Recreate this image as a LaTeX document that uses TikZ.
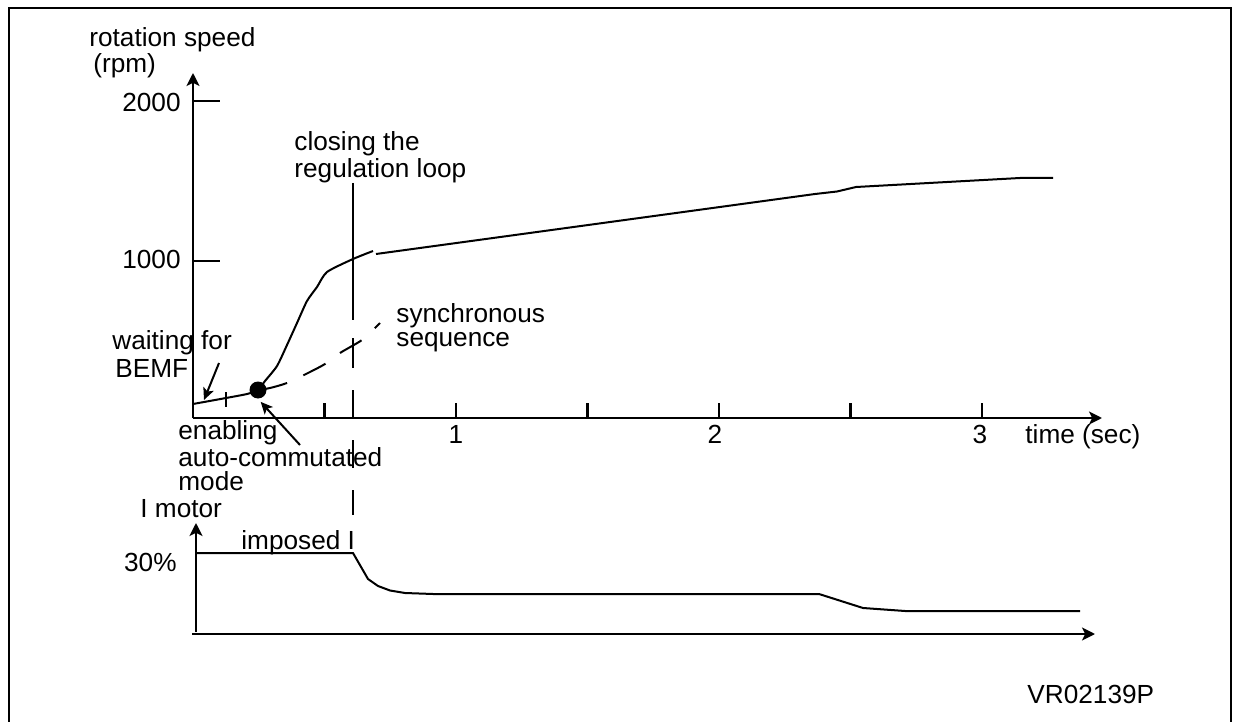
\documentclass[tikz,border=0pt]{standalone}
\usepackage{fontspec}
\setmainfont{Liberation Sans}
\usetikzlibrary{arrows.meta}

\begin{document}
\begin{tikzpicture}[x=0.5pt, y=-0.5pt,
  lbl/.style={font=\fontsize{13.1}{#1}\selectfont, inner sep=0pt, align=left},
  lbl/.default=12pt,
  axis/.style={line width=1.3pt, -{Stealth[length=6.5pt, width=6.5pt, inset=1.6pt]}},
  tick/.style={line width=1.2pt},
  curve/.style={line width=1pt},
  ptr/.style={line width=1pt, -{Stealth[length=6pt, width=5.5pt, inset=1.4pt]}},
]
  \useasboundingbox (0,0) rectangle (1233,722);

  % frame
  \draw[line width=1.4pt] (9,740) -- (9,8) -- (1231,8) -- (1231,740);

  % speed axes
  \draw[axis] (193,418) -- (193,73);
  \draw[axis] (193,418) -- (1102,418);
  \foreach \k in {1,...,6}
    \draw[tick] ({193+131.5*\k},418) -- ++(0,-15);
  \draw[tick] (193,101) -- (220,101);
  \draw[tick] (193,261) -- (220,261);
  \draw[tick] (226,392) -- (226,407);

  % multi-line labels sit on the baseline of their last line
  \node[lbl=11pt, anchor=base west] (yname) at (89,73) {rotation speed\\\hspace*{2pt}(rpm)};
  \node[lbl, anchor=base east] (v2000) at (181,112) {2000};
  \node[lbl, anchor=base east] (v1000) at (181,269) {1000};
  \node[lbl, anchor=base] (t1) at (456,443) {1};
  \node[lbl, anchor=base] (t2) at (715,443) {2};
  \node[lbl, anchor=base] (t3) at (980,443) {3};
  \node[lbl, anchor=base west] (xname) at (1025,443) {time (sec)};

  % speed curve
  \draw[curve] plot[smooth, tension=0.4] coordinates {(193,404) (226,398) (247,394) (258,390)
    (265,381) (277,366) (287,345) (297,323) (307,301) (317,287) (327,272) (353,259) (373,251)};
  \draw[curve] (376,254) -- (815,194) -- (837,191.5) -- (856,187) -- (1020,178) -- (1053,178);
  \node[circle, fill, inner sep=0pt, minimum size=8.5pt] (auto) at (258,390) {};

  % synchronous sequence
  \draw[curve, dash pattern={on 12.5pt off 9pt}, dash phase=19pt] plot[smooth, tension=0.5]
    coordinates {(258,390) (270,388) (287,383) (304,375) (325,364) (340,353) (362,340) (375,328) (380,323)};
  \node[lbl=12pt, anchor=base west] (sync) at (396,346) {synchronous\\sequence};

  % closing the loop
  \node[lbl, anchor=base west] (loop) at (294,177) {closing the\\regulation loop};
  \coordinate (loopTop) at (353,183);
  \coordinate (loopEnd) at (353,515);
  \draw[line width=1.2pt, dash pattern={on 68.5pt off 9pt on 15pt off 11pt on 14pt off 11pt on 14pt off 11pt on 12.5pt off 20pt}]
    (loopTop) -- (loopEnd);

  % pointers
  \node[lbl=13.5pt, anchor=base west] (wait) at (112,377) {waiting for\\\hspace*{1.5pt}BEMF};
  \node[lbl, anchor=base west] (enab) at (178,490) {enabling\\auto-commutated\\mode};
  \coordinate (waitFrom) at (219,363);
  \coordinate (bemf) at (204,400);
  \coordinate (enabFrom) at (300,445);
  \draw[ptr] (waitFrom) -- (bemf);
  \draw[ptr, shorten >=2pt] (enabFrom) -- (auto.south);

  % current axes
  \draw[axis] (196,632) -- (196,523);
  \draw[axis] (192,634) -- (1095,634);
  \node[lbl, anchor=base west] (iname) at (140,517) {I motor};
  \node[lbl, anchor=base east] (v30) at (177,571) {30\%};
  \node[lbl, anchor=base west] (imposed) at (241,549) {imposed I};

  % current curve
  \draw[curve] (197,553) -- (353,553) -- (368,579) -- (378,586) -- (390,590.5) -- (405,593)
    -- (433,594) -- (819,594) -- (863,608) -- (905,611) -- (1080,611);

  \node[lbl, anchor=base west] (ref) at (1027,703) {VR02139P};
\end{tikzpicture}
\end{document}
